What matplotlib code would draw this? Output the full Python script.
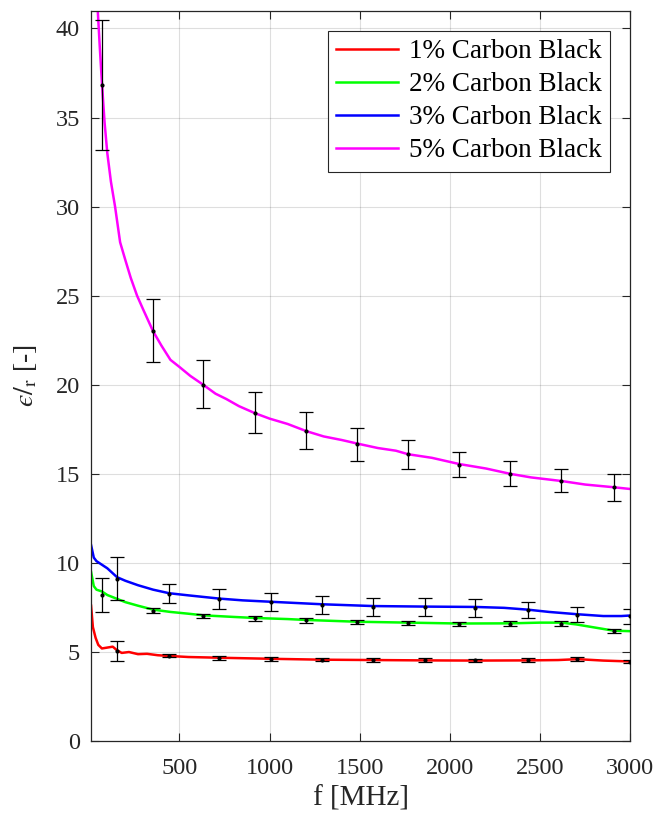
import matplotlib.pyplot as plt
import numpy as np

plt.rcParams['font.family'] = ['Liberation Serif', 'DejaVu Serif']
plt.rcParams['mathtext.fontset'] = 'stix'

# continuous curves (f in MHz)
f1 = [10, 20, 35, 50, 70, 100, 130, 154, 180, 220, 270, 320, 380, 443, 550, 720,
      1009, 1292, 1575, 1863, 2141, 2430, 2600, 2707, 2850, 3000]
cb1 = [7.6, 6.4, 5.8, 5.4, 5.2, 5.25, 5.3, 5.1, 4.95, 5.0, 4.88, 4.9, 4.82, 4.78, 4.72, 4.68,
       4.62, 4.57, 4.55, 4.53, 4.52, 4.53, 4.55, 4.6, 4.52, 4.47]

f2 = [10, 25, 40, 70, 100, 150, 200, 270, 354, 450, 550, 632, 800, 920, 1100, 1203,
      1486, 1769, 2052, 2335, 2500, 2618, 2700, 2800, 2907, 3000]
cb2 = [9.5, 8.7, 8.5, 8.4, 8.2, 8.0, 7.8, 7.6, 7.38, 7.25, 7.15, 7.06, 6.97, 6.91, 6.85, 6.8,
       6.7, 6.65, 6.6, 6.61, 6.65, 6.65, 6.55, 6.38, 6.2, 6.17]

f3 = [10, 25, 40, 70, 100, 154, 200, 270, 354, 443, 550, 720, 850, 1009, 1292, 1575,
      1863, 2141, 2300, 2430, 2550, 2707, 2850, 2950, 3000]
cb3 = [11.0, 10.3, 10.1, 9.9, 9.7, 9.2, 9.0, 8.75, 8.5, 8.3, 8.18, 8.0, 7.9, 7.82, 7.68, 7.58,
       7.55, 7.53, 7.48, 7.38, 7.25, 7.12, 7.02, 7.02, 7.05]

f5 = [47, 58, 71, 85, 100, 120, 143, 171, 200, 230, 265, 300, 354, 400, 450, 500, 560,
      632, 700, 760, 830, 920, 1000, 1100, 1203, 1300, 1400, 1486, 1600, 1700, 1769,
      1900, 2052, 2200, 2335, 2450, 2618, 2750, 2907, 3000]
cb5 = [41, 39, 36.8, 34.7, 33.0, 31.4, 30.0, 28.0, 27.0, 26.0, 25.0, 24.2, 23.0, 22.2,
       21.4, 21.0, 20.5, 20.0, 19.5, 19.2, 18.8, 18.4, 18.1, 17.8, 17.4, 17.1, 16.9, 16.7,
       16.45, 16.3, 16.1, 15.9, 15.55, 15.3, 15.0, 14.8, 14.6, 14.4, 14.25, 14.15]

# error bar points
ef_a = [154, 443, 720, 1009, 1292, 1575, 1863, 2141, 2430, 2707, 2996]
ef_b = [71, 354, 632, 920, 1203, 1486, 1769, 2052, 2335, 2618, 2907]

e1_v = [5.05, 4.8, 4.68, 4.62, 4.57, 4.55, 4.55, 4.53, 4.55, 4.6, 4.45]
e1_e = [0.55, 0.1, 0.1, 0.1, 0.08, 0.1, 0.1, 0.1, 0.1, 0.1, 0.08]

e2_v = [8.2, 7.32, 7.03, 6.89, 6.78, 6.68, 6.62, 6.58, 6.6, 6.6, 6.18]
e2_e = [0.95, 0.15, 0.13, 0.13, 0.13, 0.12, 0.12, 0.12, 0.12, 0.12, 0.13]

e3_v = [9.12, 8.28, 7.98, 7.8, 7.64, 7.55, 7.51, 7.49, 7.34, 7.08, 7.02]
e3_e = [1.2, 0.55, 0.55, 0.5, 0.5, 0.5, 0.5, 0.5, 0.45, 0.42, 0.42]

e5_v = [36.8, 23.0, 20.0, 18.4, 17.4, 16.7, 16.1, 15.5, 15.0, 14.6, 14.25]
e5_lo = [33.2, 21.3, 18.7, 17.3, 16.4, 15.7, 15.3, 14.8, 14.3, 14.0, 13.5]
e5_hi = [40.5, 24.8, 21.4, 19.6, 18.5, 17.6, 16.9, 16.2, 15.7, 15.3, 15.0]

labels = ['1% Carbon Black', '2% Carbon Black', '3% Carbon Black', '5% Carbon Black']
colors = ['#ff0000', '#00ff00', '#0000ff', '#ff00ff']

fig = plt.figure(figsize=(6.6, 8.18), dpi=100)
ax = fig.add_axes([0.138, 0.094, 0.817, 0.893])

ax.plot(f1, cb1, color=colors[0], lw=1.8, label=labels[0])
ax.plot(f2, cb2, color=colors[1], lw=1.8, label=labels[1])
ax.plot(f3, cb3, color=colors[2], lw=1.8, label=labels[2])
ax.plot(f5, cb5, color=colors[3], lw=1.8, label=labels[3])

eb = dict(fmt='.', color='k', ms=4, elinewidth=0.9, capsize=5, capthick=0.9, zorder=5)
ax.errorbar(ef_a, e1_v, yerr=e1_e, **eb)
ax.errorbar(ef_b, e2_v, yerr=e2_e, **eb)
ax.errorbar(ef_a, e3_v, yerr=e3_e, **eb)
lo = np.array(e5_v) - np.array(e5_lo)
hi = np.array(e5_hi) - np.array(e5_v)
ax.errorbar(ef_b, e5_v, yerr=[lo, hi], **eb)

ax.set_xlim(10, 3000)
ax.set_ylim(0, 41)
ax.set_xticks([500, 1000, 1500, 2000, 2500, 3000])
ax.set_yticks(range(0, 41, 5))
ax.grid(True, color='#000000', alpha=0.13, lw=0.8)
ax.tick_params(direction='in', length=6, width=0.8, top=True, right=True,
               labelsize=17.5, colors='#262626')
ax.tick_params(axis='x', pad=12)
ax.tick_params(axis='y', pad=8)
for s in ax.spines.values():
    s.set_color('#262626')
    s.set_linewidth(0.9)

ax.set_xlabel('f [MHz]', fontsize=21, color='#262626', labelpad=5)
ax.set_ylabel("$\u03f5/_{\\mathrm{r}}$ [-]", fontsize=20, color='#262626', labelpad=12)

leg = ax.legend(loc='upper right', fontsize=19.5, frameon=True, fancybox=False,
                edgecolor='#262626', framealpha=1, handlelength=2.3, borderpad=0.3,
                labelspacing=0.3, handletextpad=0.4, borderaxespad=0.75)
leg.get_frame().set_linewidth(0.8)

plt.savefig('out.png', dpi=100)
